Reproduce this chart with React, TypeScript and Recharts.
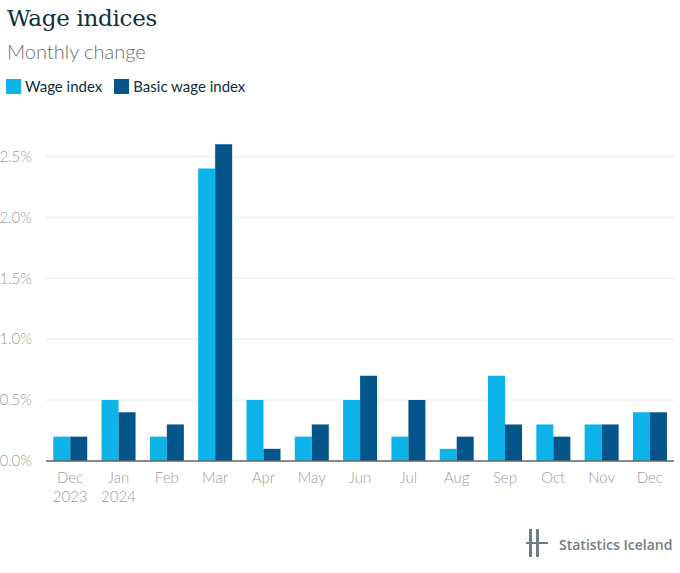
import React from 'react';
import { BarChart, Bar, XAxis, YAxis, CartesianGrid } from 'recharts';

const months = ['Dec|2023', 'Jan|2024', 'Feb', 'Mar', 'Apr', 'May', 'Jun', 'Jul', 'Aug', 'Sep', 'Oct', 'Nov', 'Dec '];
const wageIndex = [0.2, 0.5, 0.2, 2.4, 0.5, 0.2, 0.5, 0.2, 0.1, 0.7, 0.3, 0.3, 0.4];
const basicWageIndex = [0.2, 0.4, 0.3, 2.6, 0.1, 0.3, 0.7, 0.5, 0.2, 0.3, 0.2, 0.3, 0.4];
const yTicks = [0, 0.5, 1, 1.5, 2, 2.5];

const LIGHT = '#0cb4ea';
const DARK = '#04558a';
const FONT = 'Lato, "Open Sans", sans-serif';

const data = months.map((m, i) => ({ month: m, wage: wageIndex[i], basic: basicWageIndex[i] }));

const MonthTick = (props: any) => {
  const { x, y, payload } = props;
  const lines = String(payload.value).trim().split('|');
  return (
    <g transform={`translate(${x},${y})`}>
      {lines.map((l: string, i: number) => (
        <text key={i} x={0} y={14 + i * 19} textAnchor="middle" fill="#9b9b9b" fontSize={15} fontFamily={FONT} fontWeight={300}>
          {l}
        </text>
      ))}
    </g>
  );
};

const App = () => {
  return (
    <div style={{ position: 'absolute', top: 0, left: 0, width: 680, height: 573, background: '#fff', overflow: 'hidden' }}>
      <div style={{ position: 'absolute', left: 7, top: 5, fontFamily: '"DejaVu Serif", serif', fontSize: 23, color: '#0e2f3b', letterSpacing: -0.3 }}>
        Wage indices
      </div>
      <div style={{ position: 'absolute', left: 7, top: 39, fontFamily: FONT, fontWeight: 300, fontSize: 20, color: '#6e6e6e' }}>
        Monthly change
      </div>
      <div style={{ position: 'absolute', left: 6, top: 77, display: 'flex', alignItems: 'center', fontFamily: FONT, fontSize: 15, color: '#0e2f3b' }}>
        <span style={{ width: 15, height: 15, background: LIGHT, display: 'inline-block', marginRight: 4 }} />
        <span style={{ marginRight: 12 }}>Wage index</span>
        <span style={{ width: 15, height: 15, background: DARK, display: 'inline-block', marginRight: 4 }} />
        <span>Basic wage index</span>
      </div>
      <div style={{ position: 'absolute', top: 0, left: 0 }}>
        <BarChart width={680} height={573} data={data} margin={{ top: 132, right: 6, bottom: 62, left: 0 }} barCategoryGap="15%" barGap={0}>
          <CartesianGrid vertical={false} stroke="#e6e6e6" horizontalValues={yTicks} />
          <XAxis dataKey="month" axisLine={{ stroke: '#666', strokeWidth: 1.5 }} tickLine={false} tick={<MonthTick />} interval={0} height={50} />
          <YAxis
            width={46}
            domain={[0, 2.7]}
            ticks={yTicks}
            axisLine={false}
            tickLine={false}
            tickMargin={8}
            tickFormatter={(v: number) => v.toFixed(1) + '%'}
            tick={{ fill: '#9b9b9b', fontSize: 15, fontFamily: FONT, fontWeight: 300 }}
          />
          <Bar dataKey="wage" fill={LIGHT} isAnimationActive={false} />
          <Bar dataKey="basic" fill={DARK} isAnimationActive={false} />
        </BarChart>
      </div>
      <svg style={{ position: 'absolute', left: 526, top: 529 }} width={24} height={30}>
        <rect x={3} y={0} width={3} height={28} fill="#6f7f84" />
        <rect x={10} y={0} width={3} height={28} fill="#6f7f84" />
        <rect x={0} y={13} width={22} height={2} fill="#6f7f84" />
      </svg>
      <div style={{ position: 'absolute', left: 559, top: 535, fontFamily: '"Open Sans", sans-serif', fontSize: 14, fontWeight: 600, color: '#6f7f84' }}>
        Statistics Iceland
      </div>
    </div>
  );
};

export default App;
